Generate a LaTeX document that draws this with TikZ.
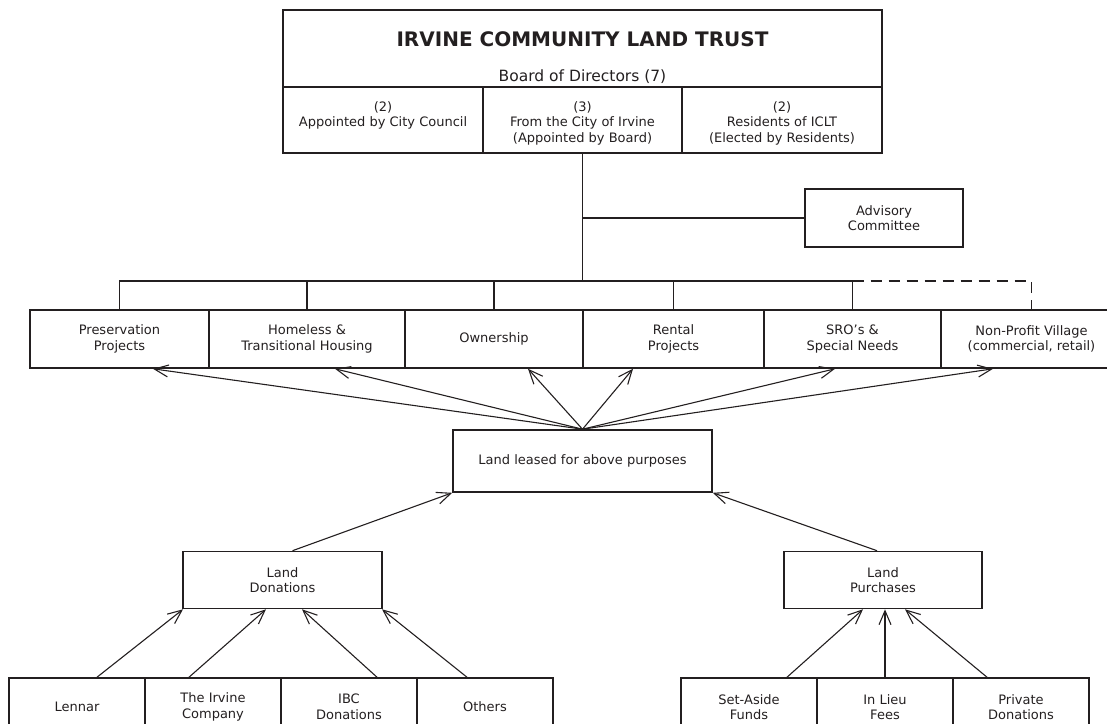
\documentclass[tikz,border=0pt]{standalone}
\usepackage{fontspec}
\setmainfont{DejaVu Sans}
\usetikzlibrary{arrows.meta}
\definecolor{ink}{RGB}{35,31,32}
\begin{document}
\begin{tikzpicture}[x=1pt,y=-1pt,
 every node/.style={text=ink,font=\fontsize{13}{15.5}\selectfont},
 box/.style={draw=ink,line width=1.6pt,inner sep=0pt,align=center,minimum height=58pt},
 cell/.style={draw=ink,line width=1.6pt,inner sep=0pt,minimum width=200pt,text height=24pt,text depth=42pt},
 link/.style={draw=ink,line width=1.1pt},
 arr/.style={link,-{Straight Barb[length=14pt,width=12pt]}}]
 \useasboundingbox (0,0) rectangle (1107,723);
 \node[draw=ink,line width=1.6pt,minimum width=599pt,minimum height=77pt] (hdr) at (582.5,48.5) {};
 \node[font=\fontsize{20}{24}\selectfont\bfseries] (trust) at (582.5,39) {IRVINE COMMUNITY LAND TRUST};
 \node[font=\fontsize{15.5}{18}\selectfont] (board) at (582.5,77) {Board of Directors (7)};
 \node[cell] (council) at (383,120) {\begin{tabular}[t]{@{}c@{}}(2)\\Appointed by City Council\end{tabular}};
 \node[cell] (city) at (582.5,120) {\begin{tabular}[t]{@{}c@{}}(3)\\From the City of Irvine\\(Appointed by Board)\end{tabular}};
 \node[cell] (residents) at (782,120) {\begin{tabular}[t]{@{}c@{}}(2)\\Residents of ICLT\\(Elected by Residents)\end{tabular}};
 \node[box,minimum width=158pt] (advisory) at (884,218) {Advisory\\Committee};
 \node[box,minimum width=179pt] (pres) at (119.5,339) {Preservation\\Projects};
 \node[box,minimum width=196pt] (homeless) at (307,339) {Homeless \&\\Transitional Housing};
 \node[box,minimum width=178pt] (own) at (494,339) {Ownership};
 \node[box,minimum width=181pt] (rental) at (673.5,339) {Rental\\Projects};
 \node[box,minimum width=177pt] (sro) at (852.5,339) {SRO’s \&\\Special Needs};
 \node[box,minimum width=181pt] (npv) at (1031.5,339) {Non-Profit Village\\(commercial, retail)};
 \node[box,minimum width=259pt,minimum height=62pt] (leased) at (582.5,461) {Land leased for above purposes};
 \node[box,minimum width=199pt,minimum height=57pt] (donate) at (282.5,580) {Land\\Donations};
 \node[box,minimum width=198pt,minimum height=57pt] (purchase) at (883,580) {Land\\Purchases};
 \node[box,minimum width=136pt] (lennar) at (77,707) {Lennar};
 \node[box,minimum width=136pt] (irvine) at (213,707) {The Irvine\\Company};
 \node[box,minimum width=136pt] (ibc) at (349,707) {IBC\\Donations};
 \node[box,minimum width=136pt] (others) at (485,707) {Others};
 \node[box,minimum width=136pt] (setaside) at (749,707) {Set-Aside\\Funds};
 \node[box,minimum width=136pt] (inlieu) at (885,707) {In Lieu\\Fees};
 \node[box,minimum width=136pt] (private) at (1021,707) {Private\\Donations};
 \coordinate (bus) at (582.5,281);
 \draw[link] (city.south) -- (bus);
 \draw[link] (city.south |- advisory.west) -- (advisory.west);
 \draw[link] (pres.north) -- (pres.north |- bus) -- (sro.north |- bus) -- (sro.north);
 \foreach \n in {homeless,own,rental}
  \draw[link] (\n.north) -- (\n.north |- bus);
 \draw[link,dash pattern=on 11pt off 7pt] (sro.north |- bus) -- (npv.north |- bus) -- (npv.north);
 \foreach \n/\dx in {pres/33.5,homeless/28,own/34,rental/-40.5,sro/-17.5,npv/-38.5}
  \draw[arr] (leased.north) -- ([xshift=\dx pt]\n.south);
 \draw[arr] ([xshift=10pt]donate.north) -- (leased.south west);
 \draw[arr] ([xshift=-6pt]purchase.north) -- (leased.south east);
 \foreach \n/\sx/\tx in {lennar/20/-99.5,irvine/-24/-16.5,ibc/28/19.5,others/-18/99.5}
  \draw[arr] ([xshift=\sx pt]\n.north) -- ([xshift=\tx pt]donate.south);
 \foreach \n/\sx/\tx in {setaside/38/-20,inlieu/0/2,private/-34/22}
  \draw[arr] ([xshift=\sx pt]\n.north) -- ([xshift=\tx pt]purchase.south);
\end{tikzpicture}
\end{document}
